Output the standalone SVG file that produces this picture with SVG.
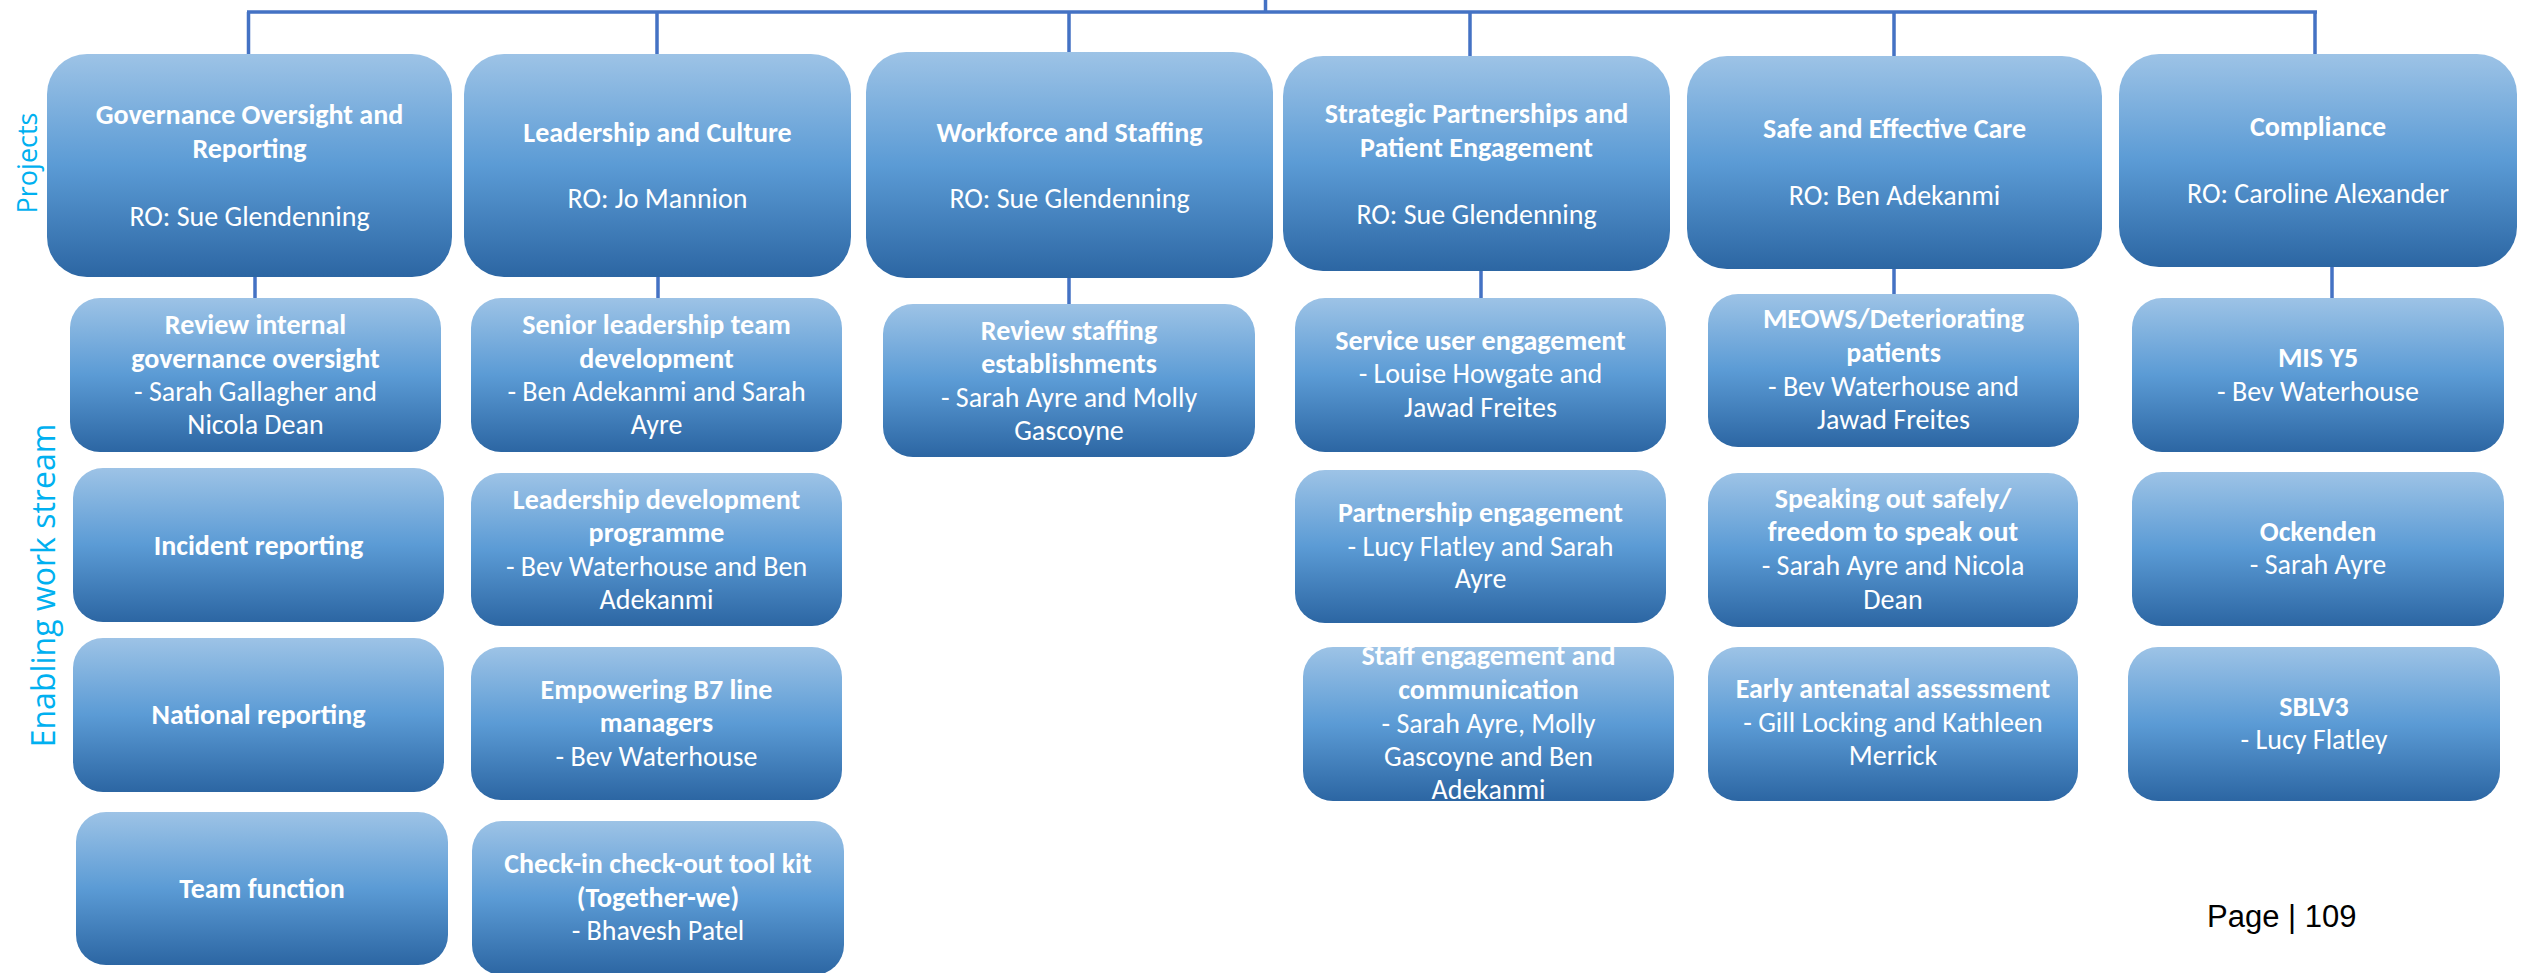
<svg xmlns="http://www.w3.org/2000/svg" width="2521" height="973" viewBox="0 0 2521 973">
<defs>
<linearGradient id="g" x1="0" y1="0" x2="0" y2="1">
<stop offset="0" stop-color="#9DC3E6"/>
<stop offset="0.5" stop-color="#5B9BD5"/>
<stop offset="1" stop-color="#2C66A3"/>
</linearGradient>
</defs>
<style>
.box{fill:url(#g)}
.t{font-family:Carlito,Lato,"Open Sans",sans-serif;font-size:28px;fill:#fff;text-anchor:middle}
.b{font-weight:bold}
.c{stroke:#4472C4;stroke-width:3.5;fill:none}
.side{font-family:"Open Sans","Noto Sans",sans-serif;fill:#00B0F0;text-anchor:middle}
.pg{font-family:"Liberation Sans",Arial,sans-serif;font-size:31px;fill:#000}
</style>
<rect width="2521" height="973" fill="#fff"/>
<g id="connectors">
<path class="c" d="M1265.5,0V12M247,12H2317M248.5,12V54M657,12V54M1069,12V52M1470,12V56M1894,12V56M2315,12V54"/>
<path class="c" d="M255,277V298M658,277V298M1069,278V304M1481,271V298M1894,269V294M2332,267V298"/>
</g>
<text class="side" font-size="27" transform="translate(37,163) rotate(-90)">Projects</text>
<text class="side" font-size="32" transform="translate(55,585.5) rotate(-90)">Enabling work stream</text>
<g id="p1"><rect class="box" x="47" y="54" width="405" height="223" rx="40"/>
<text class="t b" x="249.5" y="124">Governance Oversight and</text><text class="t b" x="249.5" y="158">Reporting</text><text class="t" x="249.5" y="226">RO: Sue Glendenning</text></g>
<g id="p2"><rect class="box" x="464" y="54" width="387" height="223" rx="40"/>
<text class="t b" x="657.5" y="142">Leadership and Culture</text><text class="t" x="657.5" y="208">RO: Jo Mannion</text></g>
<g id="p3"><rect class="box" x="866" y="52" width="407" height="226" rx="40"/>
<text class="t b" x="1069.5" y="142">Workforce and Staffing</text><text class="t" x="1069.5" y="208">RO: Sue Glendenning</text></g>
<g id="p4"><rect class="box" x="1283" y="56" width="387" height="215" rx="40"/>
<text class="t b" x="1476.5" y="123">Strategic Partnerships and</text><text class="t b" x="1476.5" y="157">Patient Engagement</text><text class="t" x="1476.5" y="224">RO: Sue Glendenning</text></g>
<g id="p5"><rect class="box" x="1687" y="56" width="415" height="213" rx="40"/>
<text class="t b" x="1894.5" y="138">Safe and Effective Care</text><text class="t" x="1894.5" y="205">RO: Ben Adekanmi</text></g>
<g id="p6"><rect class="box" x="2119" y="54" width="398" height="213" rx="40"/>
<text class="t b" x="2318" y="136">Compliance</text><text class="t" x="2318" y="203">RO: Caroline Alexander</text></g>

<g id="c1a"><rect class="box" x="70" y="298" width="371" height="154" rx="30"/>
<text class="t b" x="255.5" y="334">Review internal</text><text class="t b" x="255.5" y="368">governance oversight</text><text class="t" x="255.5" y="401">- Sarah Gallagher and</text><text class="t" x="255.5" y="434">Nicola Dean</text></g>
<g id="c1b"><rect class="box" x="73" y="468" width="371" height="154" rx="30"/>
<text class="t b" x="258.5" y="555">Incident reporting</text></g>
<g id="c1c"><rect class="box" x="73" y="638" width="371" height="154" rx="30"/>
<text class="t b" x="258.5" y="724">National reporting</text></g>
<g id="c1d"><rect class="box" x="76" y="812" width="372" height="153" rx="30"/>
<text class="t b" x="262" y="898">Team function</text></g>

<g id="c2a"><rect class="box" x="471" y="298" width="371" height="154" rx="30"/>
<text class="t b" x="656.5" y="334">Senior leadership team</text><text class="t b" x="656.5" y="368">development</text><text class="t" x="656.5" y="401">- Ben Adekanmi and Sarah</text><text class="t" x="656.5" y="434">Ayre</text></g>
<g id="c2b"><rect class="box" x="471" y="473" width="371" height="153" rx="30"/>
<text class="t b" x="656.5" y="509">Leadership development</text><text class="t b" x="656.5" y="542">programme</text><text class="t" x="656.5" y="576">- Bev Waterhouse and Ben</text><text class="t" x="656.5" y="609">Adekanmi</text></g>
<g id="c2c"><rect class="box" x="471" y="647" width="371" height="153" rx="30"/>
<text class="t b" x="656.5" y="699">Empowering B7 line</text><text class="t b" x="656.5" y="732">managers</text><text class="t" x="656.5" y="766">- Bev Waterhouse</text></g>
<g id="c2d"><rect class="box" x="472" y="821" width="372" height="154" rx="30"/>
<text class="t b" x="658" y="873">Check-in check-out tool kit</text><text class="t b" x="658" y="907">(Together-we)</text><text class="t" x="658" y="940">- Bhavesh Patel</text></g>

<g id="c3a"><rect class="box" x="883" y="304" width="372" height="153" rx="30"/>
<text class="t b" x="1069" y="340">Review staffing</text><text class="t b" x="1069" y="373">establishments</text><text class="t" x="1069" y="407">- Sarah Ayre and Molly</text><text class="t" x="1069" y="440">Gascoyne</text></g>

<g id="c4a"><rect class="box" x="1295" y="298" width="371" height="154" rx="30"/>
<text class="t b" x="1480.5" y="350">Service user engagement</text><text class="t" x="1480.5" y="383">- Louise Howgate and</text><text class="t" x="1480.5" y="417">Jawad Freites</text></g>
<g id="c4b"><rect class="box" x="1295" y="470" width="371" height="153" rx="30"/>
<text class="t b" x="1480.5" y="522">Partnership engagement</text><text class="t" x="1480.5" y="556">- Lucy Flatley and Sarah</text><text class="t" x="1480.5" y="588">Ayre</text></g>
<g id="c4c"><rect class="box" x="1303" y="647" width="371" height="154" rx="30"/>
<text class="t b" x="1488.5" y="665">Staff engagement and</text><text class="t b" x="1488.5" y="699">communication</text><text class="t" x="1488.5" y="733">- Sarah Ayre, Molly</text><text class="t" x="1488.5" y="766">Gascoyne and Ben</text><text class="t" x="1488.5" y="799">Adekanmi</text></g>

<g id="c5a"><rect class="box" x="1708" y="294" width="371" height="153" rx="30"/>
<text class="t b" x="1893.5" y="328">MEOWS/Deteriorating</text><text class="t b" x="1893.5" y="362">patients</text><text class="t" x="1893.5" y="396">- Bev Waterhouse and</text><text class="t" x="1893.5" y="429">Jawad Freites</text></g>
<g id="c5b"><rect class="box" x="1708" y="473" width="370" height="154" rx="30"/>
<text class="t b" x="1893" y="508">Speaking out safely/</text><text class="t b" x="1893" y="541">freedom to speak out</text><text class="t" x="1893" y="575">- Sarah Ayre and Nicola</text><text class="t" x="1893" y="609">Dean</text></g>
<g id="c5c"><rect class="box" x="1708" y="647" width="370" height="154" rx="30"/>
<text class="t b" x="1893" y="698">Early antenatal assessment</text><text class="t" x="1893" y="732">- Gill Locking and Kathleen</text><text class="t" x="1893" y="765">Merrick</text></g>

<g id="c6a"><rect class="box" x="2132" y="298" width="372" height="154" rx="30"/>
<text class="t b" x="2318" y="367">MIS Y5</text><text class="t" x="2318" y="401">- Bev Waterhouse</text></g>
<g id="c6b"><rect class="box" x="2132" y="472" width="372" height="154" rx="30"/>
<text class="t b" x="2318" y="541">Ockenden</text><text class="t" x="2318" y="574">- Sarah Ayre</text></g>
<g id="c6c"><rect class="box" x="2128" y="647" width="372" height="154" rx="30"/>
<text class="t b" x="2314" y="716">SBLV3</text><text class="t" x="2314" y="749">- Lucy Flatley</text></g>

<text class="pg" x="2207" y="927">Page | 109</text>
</svg>
